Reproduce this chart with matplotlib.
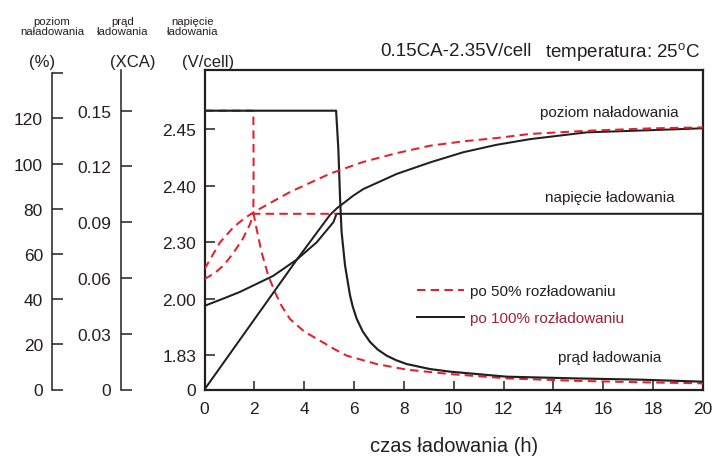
import numpy as np
import matplotlib
matplotlib.use("Agg")
import matplotlib.pyplot as plt
from matplotlib.lines import Line2D

plt.rcParams['font.family'] = ['Liberation Sans', 'DejaVu Sans']
plt.rcParams['mathtext.fontset'] = 'custom'
plt.rcParams['mathtext.rm'] = 'Liberation Sans'
plt.rcParams['mathtext.it'] = 'Liberation Sans:italic'

# ---------------- data ----------------
HOUR_TICKS = [0, 2, 4, 6, 8, 10, 12, 14, 16, 18, 20]

PCT_TICKS = [0, 20, 40, 60, 80, 100, 120, 140]
PCT_LABELS = ['0', '20', '40', '60', '80', '100', '120', '']
XCA_TICKS = [0, 0.03, 0.06, 0.09, 0.12, 0.15]
XCA_LABELS = ['0', '0.03', '0.06', '0.09', '0.12', '0.15']
VOLT_TICKS = [0, 1.83, 2.00, 2.30, 2.40, 2.45]
VOLT_LABELS = ['0', '1.83', '2.00', '2.30', '2.40', '2.45']

# charge level (%)
hours_charge_100 = [0, 3.70, 5.03, 5.32, 5.44, 5.97, 6.37, 7.71, 9.05, 10.38, 11.72, 13.06, 15.33, 17.99, 20]
charge_100 = [0, 57.4, 77.2, 80.3, 81.3, 85.8, 88.7, 95.4, 100.5, 105.0, 108.3, 110.8, 113.8, 114.8, 115.6]
hours_charge_50 = [0, 0.62, 1.16, 1.56, 1.96, 3.43, 5.03, 6.36, 7.71, 9.05, 10.37, 11.72, 13.06, 15.33, 17.99, 20]
charge_50 = [53.3, 65.1, 71.8, 75.4, 78.4, 87.4, 95.5, 100.7, 104.6, 107.9, 109.8, 111.3, 113.1, 114.5, 115.6, 116.0]

# charge voltage (V/cell)
hours_volt_100 = [0, 0.89, 1.42, 2.75, 3.70, 4.50, 5.17, 5.30, 20]
volt_100 = [1.979, 2.009, 2.037, 2.121, 2.207, 2.298, 2.335, 2.35, 2.35]
hours_volt_50 = [0, 0.42, 0.78, 1.13, 1.53, 1.83, 1.96, 5.30]
volt_50 = [2.105, 2.137, 2.179, 2.237, 2.305, 2.332, 2.35, 2.35]

# charge current (XCA)
hours_current_100 = [0, 5.28, 5.37, 5.44, 5.50, 5.64, 5.84, 5.95, 6.11, 6.35, 6.64, 6.95,
                     7.31, 7.70, 8.11, 9.05, 9.85, 12.12, 14.80, 17.47, 20]
current_100 = [0.15, 0.15, 0.1294, 0.1025, 0.0847, 0.0666, 0.0505, 0.0445, 0.0379, 0.0312, 0.0256, 0.0215,
               0.0182, 0.0157, 0.0137, 0.0110, 0.0096, 0.0069, 0.0060, 0.0053, 0.0042]
hours_current_50 = [0, 1.96, 1.97, 1.96, 2.09, 2.29, 2.56, 2.83, 3.10, 3.43, 4.00, 4.63, 5.20, 5.71,
                    6.91, 8.11, 9.85, 12.12, 14.80, 17.47, 20]
current_50 = [0.15, 0.15, 0.1200, 0.0953, 0.0864, 0.0738, 0.0612, 0.0523, 0.0448, 0.0379, 0.0312, 0.0263,
              0.0218, 0.0182, 0.0137, 0.0107, 0.0083, 0.0060, 0.0047, 0.0039, 0.0033]

LEGEND_LABELS = ['po 50% rozładowaniu', 'po 100% rozładowaniu']

# ---------------- style ----------------
INK = '#231f20'
RED = '#e3202c'
DARKRED = '#a21f36'
LW = 1.45
DASH = (4.2, 2.6)

W, H = 725, 460
def px(x, y):
    return x / W, 1 - y / H

fig = plt.figure(figsize=(7.25, 4.6), dpi=100)
ax = fig.add_axes([204.5 / W, 1 - 390.5 / H, (703 - 204.5) / W, (390.5 - 71) / H])

# non-uniform voltage axis: piecewise linear between labelled ticks
V_KNOTS = [0.0, 1.83, 2.00, 2.30, 2.40, 2.45, 2.55]
V_POS = [0.0, 0.108, 0.2833, 0.4617, 0.6379, 0.8153, 1.1701]
def v_forward(v):
    return np.interp(v, V_KNOTS, V_POS)
def v_inverse(p):
    return np.interp(p, V_POS, V_KNOTS)
ax.set_yscale('function', functions=(v_forward, v_inverse))
ax.set_ylim(0, 2.502)
ax.set_xlim(0, 20)

ax_i = ax.twinx()
ax_i.set_ylim(0, 0.1719)
ax_p = ax.twinx()
ax_p.set_ylim(0, 141.4)

for s in ax.spines.values():
    s.set_linewidth(1.6)
    s.set_color(INK)

ax.set_xticks(HOUR_TICKS)
ax.set_xticklabels([str(h) for h in HOUR_TICKS])
ax.set_yticks(VOLT_TICKS)
ax.set_yticklabels(VOLT_LABELS)
ax.yaxis.set_minor_locator(matplotlib.ticker.NullLocator())
ax.tick_params(axis='x', direction='in', length=6.5, width=1.1, pad=8, labelsize=12.5,
               colors=INK, top=False)
ax.tick_params(axis='y', direction='in', length=7, width=1.1, pad=6, labelsize=12.5,
               colors=INK, right=False)

for a, off, ticks, labels in ((ax_i, -0.1685, XCA_TICKS, XCA_LABELS),
                              (ax_p, -0.306, PCT_TICKS, PCT_LABELS)):
    for s in ('right', 'top', 'bottom'):
        a.spines[s].set_visible(False)
    a.spines['left'].set_visible(True)
    a.spines['left'].set_position(('axes', off))
    a.spines['left'].set_linewidth(1.1)
    a.spines['left'].set_color(INK)
    a.yaxis.set_ticks_position('left')
    a.yaxis.set_label_position('left')
    a.set_yticks(ticks)
    a.set_yticklabels(labels)
    a.tick_params(axis='y', direction='in', length=8, width=1.1, pad=6.5,
                  labelsize=12.5, colors=INK)
ax_p.spines['left'].set_bounds(0, 140)

# curves
ax.plot(hours_volt_50, volt_50, color=RED, lw=LW, dashes=DASH, zorder=3)
ax.plot(hours_volt_100, volt_100, color=INK, lw=LW, zorder=2)
ax_i.plot(hours_current_50, current_50, color=RED, lw=LW, dashes=DASH, zorder=2)
ax_i.plot(hours_current_100, current_100, color=INK, lw=1.55, zorder=3)
ax_p.plot(hours_charge_100, charge_100, color=INK, lw=LW, zorder=2)
ax_p.plot(hours_charge_50, charge_50, color=RED, lw=LW, dashes=DASH, zorder=3)

# texts
for x, s in ((52, 'poziom\nnaładowania'), (122.5, 'prąd\nładowania'), (192.5, 'napięcie\nładowania')):
    fig.text(*px(x, 27), s, ha='center', va='center', fontsize=8.2, linespacing=1.05, color=INK)
for x, s in ((41.7, '(%)'), (133, '(XCA)'), (208, '(V/cell)')):
    fig.text(*px(x, 62), s, ha='center', va='center', fontsize=12, color=INK)

fig.text(*px(380, 52), '0.15CA-2.35V/cell', ha='left', va='center', fontsize=13.5, color=INK)
fig.text(*px(545, 52), 'temperatura: 25$^{\\mathrm{o}}$C', ha='left', va='center', fontsize=13.5, color=INK)

fig.text(*px(540, 113), 'poziom naładowania', ha='left', va='center', fontsize=11, color=INK)
fig.text(*px(545, 198), 'napięcie ładowania', ha='left', va='center', fontsize=11, color=INK)
fig.text(*px(558, 358), 'prąd ładowania', ha='left', va='center', fontsize=11, color=INK)

ax.set_xlabel('czas ładowania (h)', fontsize=14.5, color=INK, labelpad=15)

handles = [Line2D([], [], color=RED, lw=LW, dashes=DASH), Line2D([], [], color=INK, lw=LW)]
leg = fig.legend(handles, LEGEND_LABELS, loc='upper left', bbox_to_anchor=px(417, 285),
                 frameon=False, fontsize=11, handlelength=3.1, handletextpad=0.4,
                 labelspacing=0.85, borderpad=0, borderaxespad=0)
leg.get_texts()[0].set_color(INK)
leg.get_texts()[1].set_color(DARKRED)

fig.savefig('out.png', dpi=100)
